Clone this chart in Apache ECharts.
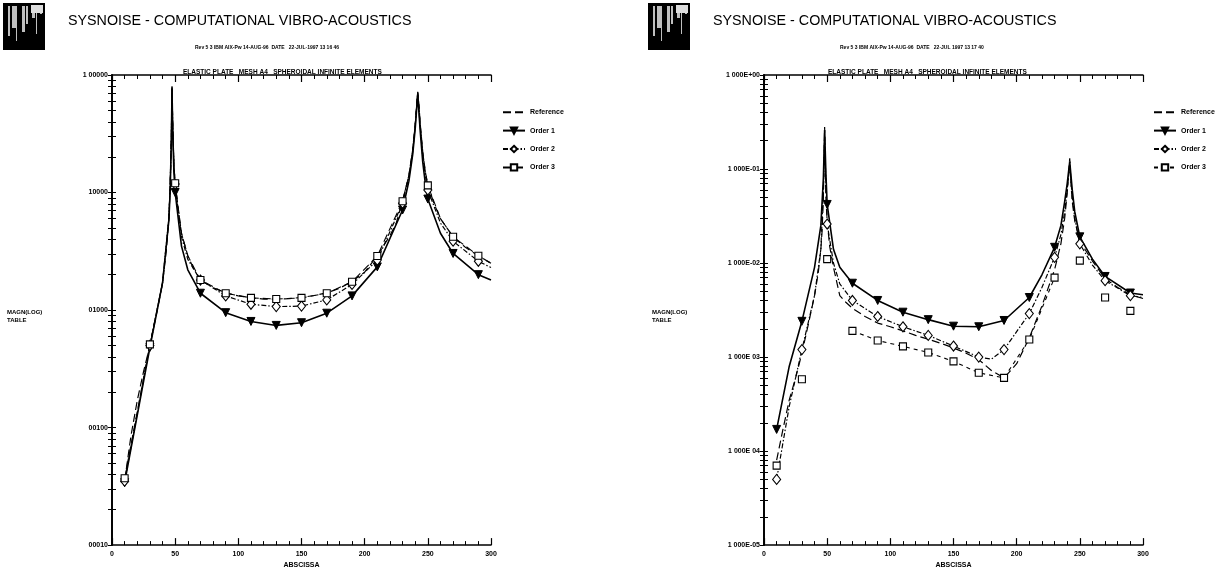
<!DOCTYPE html>
<html><head><meta charset="utf-8">
<script src="https://cdn.jsdelivr.net/npm/echarts@6/dist/echarts.min.js"></script>
<style>html,body{margin:0;padding:0;background:#fff}#c{width:1217px;height:574px}</style>
</head><body><div id="c"></div>
<script>
// ---------- data ----------
const xTickLabels = ['0','50','100','150','200','250','300'];
const markerX = [10,30,50,70,90,110,130,150,170,190,210,230,250,270,290];
const seriesNames = ['Reference','Order 1','Order 2','Order 3'];

const leftDecadeLabels = ['00010','00100','01000','10000','1 00000'];   // 1e-4 .. 1
const rightDecadeLabels = ['1 000E-05','1 000E 04','1 000E 03','1 000E-02','1 000E-01','1 000E+00']; // 1e-5 .. 1

const leftReference = [[10,0.00035],[15,0.00085],[20,0.0017],[25,0.003],[30,0.005],[35,0.009],[40,0.017],[43,0.032],[45,0.06],[46,0.11],[47,0.3],[47.5,0.8],[48,0.4],[49,0.17],[50,0.12],[52,0.075],[55,0.045],[60,0.029],[65,0.022],[70,0.018],[80,0.0155],[90,0.014],[100,0.0132],[110,0.0127],[120,0.0124],[130,0.0124],[140,0.0125],[150,0.0128],[160,0.0133],[170,0.014],[180,0.0153],[190,0.0175],[200,0.021],[210,0.029],[220,0.043],[225,0.055],[230,0.085],[235,0.14],[238,0.23],[240,0.38],[241,0.52],[242,0.72],[243,0.55],[244,0.38],[246,0.22],[248,0.15],[250,0.116],[255,0.08],[260,0.06],[270,0.042],[280,0.034],[290,0.029],[300,0.025]];
const leftOrder1 = [[10,0.00034],[30,0.0048],[40,0.017],[45,0.058],[46,0.1],[47,0.28],[47.5,0.76],[48,0.37],[49,0.15],[50,0.10],[55,0.035],[60,0.022],[70,0.0139],[90,0.0095],[110,0.008],[130,0.0074],[150,0.0078],[170,0.0094],[190,0.0132],[210,0.0233],[230,0.071],[235,0.125],[238,0.21],[240,0.35],[242,0.68],[244,0.33],[246,0.18],[248,0.12],[250,0.088],[260,0.045],[270,0.0303],[290,0.020],[300,0.018]];
const leftOrder2 = [[10,0.00035],[30,0.005],[40,0.017],[45,0.06],[46,0.11],[47,0.3],[47.5,0.78],[48,0.4],[49,0.17],[50,0.118],[55,0.042],[60,0.027],[70,0.018],[90,0.0132],[110,0.0112],[130,0.0107],[150,0.0108],[170,0.0122],[190,0.0165],[210,0.0266],[230,0.081],[235,0.135],[238,0.22],[240,0.37],[242,0.7],[244,0.36],[246,0.2],[248,0.14],[250,0.105],[260,0.055],[270,0.0385],[290,0.026],[300,0.023]];
const leftOrder3 = [[10,0.00037],[30,0.0051],[40,0.017],[45,0.06],[46,0.11],[47,0.3],[47.5,0.8],[48,0.4],[49,0.17],[50,0.12],[55,0.045],[60,0.029],[70,0.018],[90,0.0139],[110,0.0127],[130,0.0124],[150,0.0127],[170,0.0139],[190,0.0174],[210,0.0288],[230,0.0844],[235,0.14],[238,0.23],[240,0.38],[242,0.72],[244,0.38],[246,0.22],[248,0.15],[250,0.115],[260,0.06],[270,0.042],[290,0.029],[300,0.025]];

const rightReference = [[10,0.00008],[15,0.00017],[20,0.00035],[25,0.0006],[30,0.0011],[35,0.0022],[40,0.0045],[43,0.008],[45,0.014],[46,0.022],[47,0.05],[47.5,0.12],[48,0.28],[48.5,0.1],[49,0.05],[50,0.028],[52,0.015],[55,0.009],[60,0.0045],[65,0.0038],[70,0.0033],[80,0.0027],[90,0.0023],[100,0.0021],[110,0.0019],[120,0.0017],[130,0.00155],[140,0.0014],[150,0.00125],[160,0.0011],[170,0.00094],[180,0.00072],[190,0.0006],[200,0.00085],[210,0.0016],[220,0.0035],[230,0.0085],[235,0.016],[238,0.03],[240,0.055],[241,0.085],[242,0.13],[243,0.07],[244,0.045],[246,0.028],[250,0.017],[260,0.0105],[270,0.0068],[280,0.0055],[290,0.0046],[300,0.0042]];
const rightOrder1 = [[10,0.00017],[20,0.0008],[30,0.0024],[40,0.009],[45,0.025],[47,0.08],[48,0.26],[49,0.09],[50,0.042],[55,0.014],[60,0.009],[70,0.0061],[90,0.004],[110,0.003],[130,0.0025],[150,0.00213],[170,0.0021],[190,0.00245],[210,0.0043],[220,0.0075],[230,0.0147],[235,0.025],[238,0.045],[240,0.07],[242,0.12],[244,0.06],[246,0.035],[250,0.019],[260,0.011],[270,0.0072],[290,0.0048],[300,0.0046]];
const rightOrder2 = [[10,0.00005],[20,0.0003],[30,0.0012],[40,0.0045],[45,0.014],[47,0.06],[48,0.22],[49,0.07],[50,0.026],[55,0.01],[60,0.006],[70,0.004],[90,0.0027],[110,0.0021],[130,0.0017],[150,0.00131],[170,0.001],[180,0.00095],[190,0.0012],[210,0.0029],[220,0.0055],[230,0.0115],[235,0.02],[238,0.035],[240,0.06],[242,0.11],[244,0.05],[246,0.03],[250,0.016],[260,0.0095],[270,0.0065],[290,0.0045],[300,0.0043]];
const rightOrder3 = [[10,0.00007],[20,null],[30,0.00058],[40,null],[50,0.011],[60,null],[70,0.0019],[90,0.0015],[110,0.0013],[130,0.00112],[150,0.0009],[170,0.00068],[190,0.0006],[210,0.00154],[230,0.007],[240,null],[250,0.0106],[260,null],[270,0.0043],[280,null],[290,0.0031]];

// ---------- helpers ----------
const FONT = '"Liberation Sans Narrow","Liberation Sans",Arial,sans-serif';
const G = [{left:112, top:75, width:379, height:473},{left:764, top:75, width:379, height:473}];

function withMarkers(arr){
  return arr.map(p => (p[1] === null) ? [p[0], null] :
    (markerX.indexOf(p[0]) >= 0 ? {value:p} : {value:p, symbol:'none'}));
}
function decadeLabeler(labels, minExp){
  return v => { const i = Math.round(Math.log10(v)) - minExp; return labels[i] || ''; };
}
// log-spaced tick values (2..9 x decade, plus decades)
function logTicks(minExp, maxExp){
  const out = [];
  for (let e = minExp; e < maxExp; e++){
    const d = Math.pow(10, e);
    for (let m = 1; m <= 9; m++) out.push(+(m*d).toPrecision(6));
  }
  return out.filter(v => v > Math.pow(10,minExp));
}
function xAxes(gi){
  const base = {type:'value', gridIndex:gi, min:0, max:300, interval:50,
    axisLine:{show:true, lineStyle:{color:'#000', width:1.5}},
    axisTick:{show:true, inside:true, length:7, lineStyle:{color:'#000', width:1.2}},
    minorTick:{show:true, splitNumber:5, length:4, lineStyle:{color:'#000', width:1}},
    splitLine:{show:false}, minorSplitLine:{show:false}};
  return [
    Object.assign({}, base, {position:'bottom',
      axisLabel:{show:true, margin:5, fontSize:7, fontWeight:'bold', fontFamily:FONT, color:'#000',
        formatter: v => xTickLabels[Math.round(v/50)]},
      name:'ABSCISSA', nameLocation:'middle', nameGap:15,
      nameTextStyle:{fontSize:7, fontWeight:'bold', fontFamily:FONT, color:'#000'}}),
    Object.assign({}, base, {position:'top', axisLabel:{show:false}})
  ];
}
function yAxes(gi, minExp, labels){
  const min = Math.pow(10,minExp);
  const ticks = logTicks(minExp, 0);
  const inner = pos => ({type:'log', gridIndex:gi, min:min, max:1, logBase:10, position:pos,
      axisLine:{show:true, lineStyle:{color:'#000', width:1.5}},
      axisTick:{show:true, inside:true, length:4, customValues:ticks, lineStyle:{color:'#000', width:1}},
      axisLabel:{show:false}, splitLine:{show:false}});
  return [
    {type:'log', gridIndex:gi, min:min, max:1, logBase:10, position:'left',
      axisLine:{show:true, lineStyle:{color:'#000', width:1.5}},
      axisTick:{show:true, inside:false, length:4, lineStyle:{color:'#000'}},
      axisLabel:{show:true, margin:4, fontSize:7, fontWeight:'bold', fontFamily:FONT, color:'#000',
        formatter: decadeLabeler(labels, minExp)},
      splitLine:{show:false}},
    inner('right'),
    inner('left')
  ];
}
function lineSeries(name, data, gi, opts){
  return Object.assign({
    name:name, type:'line', xAxisIndex:gi*2, yAxisIndex:gi*3, data:withMarkers(data),
    showAllSymbol:true, connectNulls:false, smooth:false, animation:false, silent:true,
    symbolSize:7, itemStyle:{color:'#fff', borderColor:'#000', borderWidth:1.1},
    lineStyle:{color:'#000', width:1.2}
  }, opts);
}
function chartSeries(gi, ref, o1, o2, o3, o3dash, suffix){
  return [
    lineSeries('Reference'+suffix, ref, gi, {symbol:'none', lineStyle:{color:'#000', width:1.2, type:[8,4]}}),
    lineSeries('Order 1'+suffix, o1, gi, {symbol:'triangle', symbolRotate:180, symbolSize:8,
      itemStyle:{color:'#000', borderColor:'#000', borderWidth:1}, lineStyle:{color:'#000', width:1.6}}),
    lineSeries('Order 2'+suffix, o2, gi, {symbol:'diamond', symbolSize:[8,10], lineStyle:{color:'#000', width:1.2, type:[5,2,1.5,2]}}),
    lineSeries('Order 3'+suffix, o3, gi, {symbol:'rect', symbolSize:7, lineStyle:{color:'#000', width:1.1, type:o3dash}})
  ];
}
function legend(left, suffix){
  return {orient:'vertical', left:left, top:103, itemGap:10, itemWidth:22, itemHeight:8,
    selectedMode:false,
    data:seriesNames.map((n,i) => i === 0 ? {name:n+suffix, itemStyle:{opacity:0}} : {name:n+suffix}),
    formatter: n => n.trim(),
    textStyle:{fontSize:7, fontWeight:'bold', fontFamily:FONT, color:'#000'}};
}
function logo(x){
  const kids = [{type:'rect', shape:{x:0, y:0, width:42, height:47}, style:{fill:'#000'}}];
  const cols = [[5,2,30],[9,4,22],[13,1,35],[19,3,26],[23,2,18],[29,3,12],[33,1,28],[37,2,8]];
  cols.forEach(c => kids.push({type:'rect', shape:{x:c[0], y:3, width:c[1], height:c[2]}, style:{fill:'#fff', opacity:0.75}}));
  kids.push({type:'rect', shape:{x:28, y:2, width:12, height:8}, style:{fill:'#ddd'}});
  return {type:'group', x:x, y:3, silent:true, children:kids};
}
function header(x0, rev){
  return [
    logo(x0+3),
    {type:'text', x:x0+68, y:14, silent:true, style:{text:'SYSNOISE - COMPUTATIONAL VIBRO-ACOUSTICS', font:'14.3px "Liberation Sans",Arial,sans-serif', fill:'#000'}},
    {type:'text', x:x0+195, y:45, silent:true, style:{text:rev, font:'bold 5px '+FONT, fill:'#000'}},
    {type:'text', x:x0+183, y:69, silent:true, style:{text:'ELASTIC PLATE   MESH A4   SPHEROIDAL INFINITE ELEMENTS', font:'bold 6.5px '+FONT, fill:'#000'}},
    {type:'text', x:x0+7, y:308, silent:true, style:{text:'MAGN(LOG)\nTABLE', font:'bold 6px '+FONT, fill:'#000', lineHeight:8}}
  ];
}

const chart = echarts.init(document.getElementById('c'), null, {renderer:'canvas'});
chart.setOption({
  backgroundColor:'#fff',
  animation:false,
  grid:G,
  xAxis:[...xAxes(0), ...xAxes(1)],
  yAxis:[...yAxes(0,-4,leftDecadeLabels), ...yAxes(1,-5,rightDecadeLabels)],
  legend:[legend(497, ''), legend(1148, ' ')],
  series:[
    ...chartSeries(0, leftReference, leftOrder1, leftOrder2, leftOrder3, [8,4], ''),
    ...chartSeries(1, rightReference, rightOrder1, rightOrder2, rightOrder3, [4,4], ' ')
  ],
  graphic:[
    ...header(0, 'Rev 5 3 IBM AIX-Pw 14-AUG-96  DATE   22-JUL-1997 13 16 46'),
    ...header(645, 'Rev 5 3 IBM AIX-Pw 14-AUG-96  DATE   22-JUL 1997 13 17 40')
  ]
});
</script></body></html>
